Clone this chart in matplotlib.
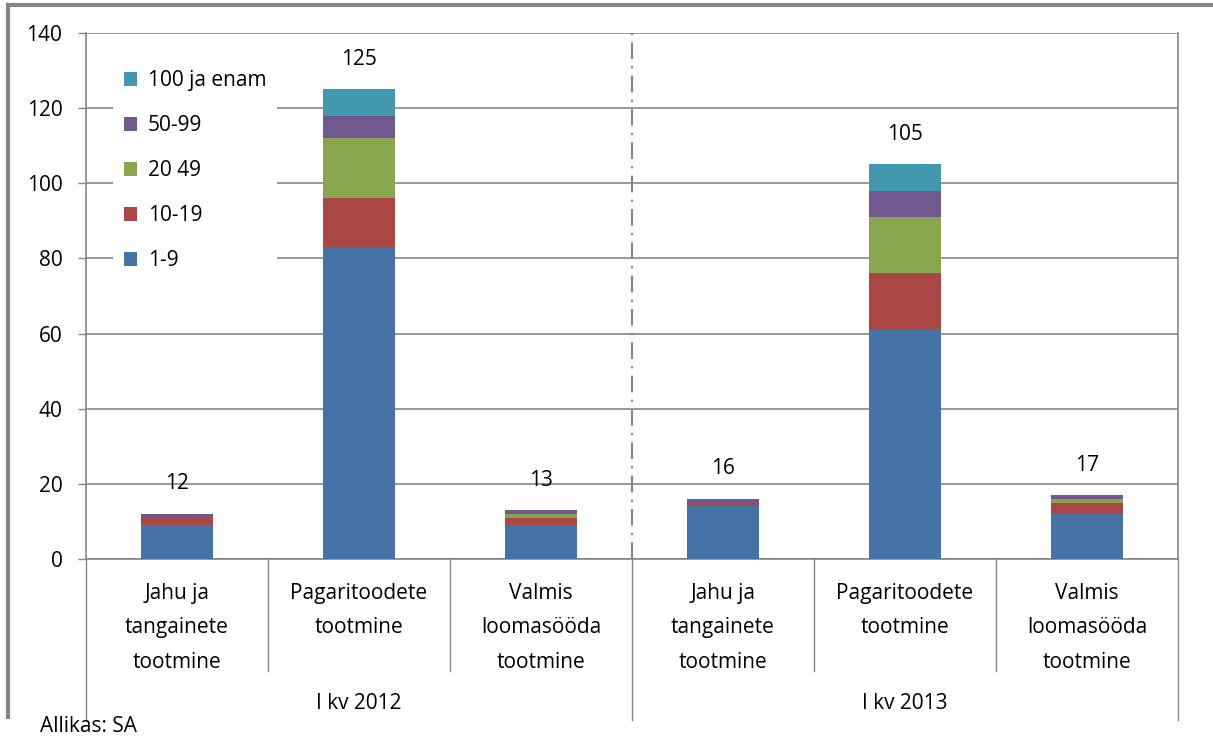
import matplotlib
matplotlib.use("Agg")
import matplotlib.pyplot as plt
import numpy as np
from matplotlib.lines import Line2D
from matplotlib.patches import Patch

categories = [
    "Jahu ja\ntangainete\ntootmine",
    "Pagaritoodete\ntootmine",
    "Valmis\nloomasööda\ntootmine",
    "Jahu ja\ntangainete\ntootmine",
    "Pagaritoodete\ntootmine",
    "Valmis\nloomasööda\ntootmine",
]
groups = ["I kv 2012", "I kv 2013"]

size_1_9 = [9, 83, 9, 14, 61, 12]
size_10_19 = [2, 13, 2, 1, 15, 3]
size_20_49 = [0, 16, 1, 0, 15, 1]
size_50_99 = [1, 6, 1, 1, 7, 1]
size_100 = [0, 7, 0, 0, 7, 0]

series = [
    ("1-9", size_1_9, "#4572A7"),
    ("10-19", size_10_19, "#AA4643"),
    ("20 49", size_20_49, "#89A54E"),
    ("50-99", size_50_99, "#71588F"),
    ("100 ja enam", size_100, "#4198AF"),
]

plt.rcParams["font.family"] = ["Open Sans", "DejaVu Sans"]
GRAY = "#868686"
FS = 15

fig = plt.figure(figsize=(12.13, 7.42), dpi=100)
ax = fig.add_axes([86 / 1213, 183 / 742, 1092 / 1213, 526 / 742])

x = np.arange(len(categories))
bottom = np.zeros(len(categories))
for name, vals, color in series:
    ax.bar(x, vals, width=0.4, bottom=bottom, color=color, label=name, zorder=3)
    bottom += np.array(vals)

for xi, total in zip(x, bottom):
    ax.annotate(f"{int(total)}", (xi, total), xytext=(0, 14), textcoords="offset points",
                ha="center", va="bottom", fontsize=FS)

ax.set_xlim(-0.5, len(categories) - 0.5)
ax.set_ylim(0, 140)
ax.set_yticks(range(0, 141, 20))
ax.yaxis.grid(True, color=GRAY, linewidth=1.2, zorder=0)
ax.set_axisbelow(True)
ax.tick_params(axis="y", length=6, width=1, color=GRAY, pad=11, labelsize=FS)
ax.set_xticks([])
ax.spines["top"].set_visible(False)
for side in ("left", "right", "bottom"):
    ax.spines[side].set_color(GRAY)
    ax.spines[side].set_linewidth(1.2)

# separator between the two quarters
ax.axvline(2.5, color=GRAY, linewidth=1.5, linestyle=(0, (8, 3.5, 1, 3.5)), zorder=2)

# two-level category axis
trans = ax.get_xaxis_transform()
for b in np.arange(-0.5, len(categories), 1.0):
    long_line = b in (-0.5, 2.5, len(categories) - 0.5)
    y_end = -0.306 if long_line else -0.213
    ax.plot([b, b], [0, y_end], transform=trans, color=GRAY, linewidth=1, clip_on=False)

for xi, label in zip(x, categories):
    ax.text(xi, -0.045, label, transform=trans, ha="center", va="top",
            fontsize=FS, linespacing=1.85)

for gi, g in enumerate(groups):
    ax.text(gi * 3 + 1, -0.275, g, transform=trans, ha="center", va="center", fontsize=FS)

handles = [Patch(facecolor=c, edgecolor="none") for _, _, c in reversed(series)]
labels = [n for n, _, _ in reversed(series)]
leg = ax.legend(handles, labels, loc="upper left", bbox_to_anchor=(0.025, 0.949),
                frameon=True, fancybox=False, facecolor="white", edgecolor="none",
                framealpha=1, fontsize=FS, handlelength=0.65, handleheight=0.65,
                handletextpad=0.5, labelspacing=1.15, borderpad=0.5, borderaxespad=0)
leg.set_zorder(5)

# outer frame pieces
fig.add_artist(Line2D([8 / 1213, 1], [1 - 5 / 742, 1 - 5 / 742], color=GRAY, linewidth=3))
fig.add_artist(Line2D([8 / 1213, 8 / 1213], [1 - 5 / 742, 25 / 742], color=GRAY, linewidth=3))

fig.text(40 / 1213, 1 - 727 / 742, "Allikas: SA", ha="left", va="center", fontsize=FS)

fig.savefig("out.png", dpi=100)
